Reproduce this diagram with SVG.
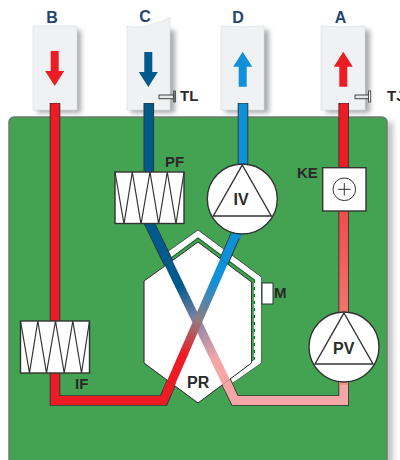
<svg xmlns="http://www.w3.org/2000/svg" width="400" height="460" viewBox="0 0 400 460">
<defs>
<linearGradient id="gRed" gradientUnits="userSpaceOnUse" x1="163.500" y1="400.500" x2="242" y2="220"><stop offset="0.25" stop-color="#ed1c24"/><stop offset="0.45" stop-color="#8f7c82"/><stop offset="0.66" stop-color="#0f90d8"/></linearGradient>
<linearGradient id="gBlue" gradientUnits="userSpaceOnUse" x1="148.800" y1="222" x2="235" y2="400.500"><stop offset="0.36" stop-color="#005a8c"/><stop offset="0.57" stop-color="#9088a8"/><stop offset="0.78" stop-color="#f7a6a8"/></linearGradient>
<linearGradient id="gKe" gradientUnits="userSpaceOnUse" x1="0" y1="211" x2="0" y2="385"><stop offset="0" stop-color="#f34b4b"/><stop offset="1" stop-color="#f88d85"/></linearGradient>
<filter id="sh" x="-30%" y="-10%" width="170%" height="125%"><feGaussianBlur stdDeviation="2.5"/></filter>
<filter id="sh2" x="-200%" y="-5%" width="500%" height="110%"><feGaussianBlur stdDeviation="3"/></filter>
<g id="fan"><circle r="35" class="w"/><path d="M0,-34 L29,17 H-29 Z" fill="none" stroke="#333" stroke-width="1.400"/></g>
<path id="filt" d="M0,0 L9,52 L17.300,0 L26,52 L35,0 L43.700,52 L52.300,0 L61,52 L69,0" fill="none" stroke="#333" stroke-width="1.200"/>
<path id="arr" d="M-4,-15 H4 V5 H9.500 L0,20 L-9.500,5 H-4 Z"/>
<path id="hex" d="M198,242 L251.500,282 V363 L198,403 L144,363 V281 Z"/>
</defs>
<style>
.w{fill:#fff;stroke:#333;stroke-width:1.400}
.t{font-family:"Liberation Sans",Arial,sans-serif;font-weight:700;font-size:15px;fill:#2a2a2a}
.h{font-family:"Liberation Sans",Arial,sans-serif;font-weight:700;font-size:16px;fill:#24466e;text-anchor:middle}
.card{fill:#f0f1f2;stroke:#dcdcdc;stroke-width:.6}
.shadow{fill:#a8aaad;filter:url(#sh)}
.d{fill:none;stroke-width:8.800;stroke-linejoin:miter}
.o{fill:none;stroke:#333;stroke-width:10.600;stroke-linejoin:miter}
</style>
<rect width="400" height="460" fill="#fff"/>
<g id="cards">
<rect class="shadow" x="37" y="30" width="44" height="83"/><rect class="shadow" x="131" y="30" width="44" height="83"/><rect class="shadow" x="225" y="30" width="44" height="83"/><rect class="shadow" x="326" y="30" width="44" height="83"/>
<path class="card" d="M33,26 H77 V110 H33 Z"/><path class="card" d="M127,26 Q140,29 150,25 Q162,22 170,17 V110 H127 Z"/><path class="card" d="M221,26 Q242,28 264,26 V110 H221 Z"/><path class="card" d="M321,26 Q343,28 365,26 V110 H321 Z"/>
</g>
<rect x="386" y="122" width="6" height="345" fill="#a8aaad" filter="url(#sh2)"/>
<rect id="panel" x="9" y="117" width="378" height="360" rx="5" fill="#43a353" stroke="#6f7a72" stroke-width="1.500"/>
<g id="labels-top"><text class="h" x="52" y="23">B</text><text class="h" x="145" y="22">C</text><text class="h" x="238" y="23">D</text><text class="h" x="340.500" y="23">A</text></g>
<g id="PR-band">
<path d="M198,230 L261.500,277 V363 L233,383 L229,375 L255,358 V280 L198,238 L171,258 L167,252 Z" fill="#fff"/>
<path d="M167,252 L198,230 L261.500,277" fill="none" stroke="#333" stroke-width=".8"/>
<path d="M261.500,277 V363 L233,383" fill="none" stroke="#3a5a45" stroke-width=".8"/>
<path d="M171,258 L198,238 L254.500,280 V359 L230,376" fill="none" stroke="#1d6b30" stroke-width="1.200"/>
<path d="M254.500,283 V358" fill="none" stroke="#fff" stroke-width="1.200" stroke-dasharray="4 3"/>
</g>
<g id="connectors">
<path class="o" d="M55,103 V400.500 H163.500 L242,220"/><path class="o" d="M148.800,103 V222 L235,400.500 H343.700 V103"/><path class="o" d="M243,103 V225"/>
</g>
<g id="PR">
<use href="#hex" fill="#fff" stroke="#333" stroke-width="1"/>
</g>
<g id="duct-fills">
<path class="d" stroke="#ed1c24" d="M55,103.500 V400.500 H163.500 L172,381"/>
<path class="d" stroke="#0f90d8" d="M243,103.500 V222 L236,237"/>
<path class="d" stroke="#005a8c" d="M148.800,103.500 V222 L158,241"/>
<path class="d" stroke="#f7a6a8" d="M226,382 L235,400.500 H343.700 V380"/>
<path class="d" stroke="url(#gBlue)" d="M150,224.500 L230,390"/>
<path class="d" stroke="url(#gRed)" d="M167,392 L238,229"/>
<path class="d" stroke="url(#gKe)" d="M343.700,385 V211"/>
<path class="d" stroke="#ed1c24" d="M343.700,103.500 V170"/>
</g>
<use href="#hex" fill="none" stroke="#333" stroke-width=".8" opacity=".35"/>
<text class="t" x="187" y="388" style="font-size:16px">PR</text>
<g id="IV"><use href="#fan" x="242.300" y="199"/><text class="t" x="233.500" y="205" style="font-size:16px">IV</text></g>
<g id="PV"><use href="#fan" x="344" y="347"/><text class="t" x="333" y="354" style="font-size:16px">PV</text></g>
<g id="PF"><rect class="w" x="115" y="172" width="69" height="51.500"/><use href="#filt" x="115" y="172"/><text class="t" x="165" y="167">PF</text></g>
<g id="IF"><rect class="w" x="20.500" y="321" width="69" height="52"/><use href="#filt" x="20.500" y="321"/><text class="t" x="75" y="389">IF</text></g>
<g id="KE"><rect class="w" x="322.700" y="167.700" width="43.300" height="43.300"/><circle cx="344.300" cy="189.300" r="11.300" fill="none" stroke="#333" stroke-width="1"/><path d="M338,189.300 H350.600 M344.300,183 V195.600" stroke="#333" stroke-width="1"/><text class="t" x="297" y="178">KE</text></g>
<g id="M"><rect x="262" y="283" width="11" height="21" fill="#fff" stroke="#333" stroke-width="1"/><text class="t" x="274" y="298">M</text></g>
<g id="TL"><rect x="159" y="95" width="14.500" height="3.700" fill="#e8e8e8" stroke="#444"/><rect x="173.500" y="91" width="2.200" height="11" fill="#777" stroke="#333" stroke-width=".6"/><text class="t" x="180" y="101">TL</text></g>
<g id="TJ"><rect x="355" y="95" width="13.500" height="3.700" fill="#e8e8e8" stroke="#444"/><rect x="368.500" y="91" width="2.200" height="11" fill="#fff" stroke="#333" stroke-width=".8"/><text class="t" x="387" y="101">TJ</text></g>
<g id="arrows"><use href="#arr" x="54.700" y="66" fill="#ed1c24"/><use href="#arr" x="148.300" y="67" fill="#005a8c"/><use href="#arr" transform="translate(242.700,71.700) rotate(180)" fill="#0f90d8"/><use href="#arr" transform="translate(343.300,71.700) rotate(180)" fill="#ed1c24"/></g>
</svg>
